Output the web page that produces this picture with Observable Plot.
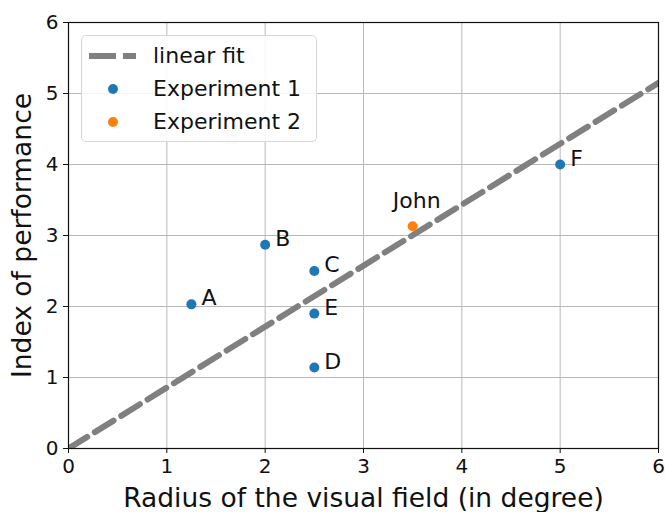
<!DOCTYPE html>
<html>
<head>
<meta charset="utf-8">
<script src="https://cdn.jsdelivr.net/npm/d3@7"></script>
<script src="https://cdn.jsdelivr.net/npm/@observablehq/plot@0.6"></script>
<style>
  body { margin: 0; background: #fff; font-family: "DejaVu Sans", sans-serif; }
  #wrap { position: relative; width: 665px; height: 512px; }
  #legend {
    position: absolute; left: 81px; top: 35px; width: 236px; height: 107px;
    background: rgba(255,255,255,0.85); border: 1px solid #d6d6d6; border-radius: 5px;
    box-sizing: border-box; font-size: 22px; color: #111;
  }
  .item { position: absolute; left: 0; height: 30px; width: 100%; }
  .item svg { position: absolute; left: 6px; top: 9px; }
  .item span { position: absolute; left: 71px; top: 2px; white-space: nowrap; line-height: 26px; }
</style>
</head>
<body>
<div id="wrap"></div>
<script>
// Data
const labels = ["A", "B", "C", "D", "E", "F", "John"];
const xs = [1.25, 2.0, 2.5, 2.5, 2.5, 5.0, 3.5];
const ys = [2.03, 2.87, 2.5, 1.14, 1.9, 4.0, 3.13];
const groups = ["Experiment 1", "Experiment 1", "Experiment 1", "Experiment 1", "Experiment 1", "Experiment 1", "Experiment 2"];
const fitX = [0, 6];
const fitY = [0, 5.15];
const xTicks = [0, 1, 2, 3, 4, 5, 6];
const yTicks = [0, 1, 2, 3, 4, 5, 6];
const colors = { "Experiment 1": "#1f77b4", "Experiment 2": "#ff7f0e" };

const pts = labels.map((l, i) => ({ label: l, x: xs[i], y: ys[i], group: groups[i] }));
const fit = fitX.map((x, i) => ({ x, y: fitY[i] }));
const exp1 = pts.filter(d => d.group === "Experiment 1");
const exp2 = pts.filter(d => d.group === "Experiment 2");

const chart = Plot.plot({
  width: 665,
  height: 512,
  marginLeft: 68,
  marginRight: 7,
  marginTop: 22,
  marginBottom: 64,
  style: { fontFamily: "DejaVu Sans, sans-serif", background: "white", color: "#111" },
  x: { domain: [0, 6], ticks: xTicks },
  y: { domain: [0, 6], ticks: yTicks },
  marks: [
    Plot.gridX(xTicks, { stroke: "#b8b8b8", strokeOpacity: 1, strokeWidth: 1 }),
    Plot.gridY(yTicks, { stroke: "#b8b8b8", strokeOpacity: 1, strokeWidth: 1 }),
    Plot.line(fit, { x: "x", y: "y", stroke: "#808080", strokeWidth: 6, strokeDasharray: "22,9", clip: true }),
    Plot.dot(pts, { x: "x", y: "y", r: 5, fill: d => colors[d.group], stroke: "none" }),
    Plot.text(exp1, { x: "x", y: "y", text: "label", dx: 10, dy: -6, textAnchor: "start", fontSize: 22, fill: "#111" }),
    Plot.text(exp2, { x: "x", y: "y", text: "label", dx: 4, dy: -25, textAnchor: "middle", fontSize: 22, fill: "#111" }),
    Plot.axisX(xTicks, { tickSize: 5, fontSize: 20, tickPadding: 5, tickFormat: d3.format("d"), label: "Radius of the visual field (in degree)", labelAnchor: "center", labelArrow: "none", labelOffset: 58, stroke: "#111", fill: "#111" }),
    Plot.axisY(yTicks, { tickSize: 5, fontSize: 20, tickPadding: 5, tickFormat: d3.format("d"), label: "Index of performance", labelAnchor: "center", labelArrow: "none", labelOffset: 56, stroke: "#111", fill: "#111" }),
    Plot.frame({ stroke: "#111", strokeWidth: 1.2 })
  ]
});

const wrap = document.getElementById("wrap");
wrap.appendChild(chart);

// Enlarge axis titles
chart.querySelectorAll("[aria-label='x-axis label'] text, [aria-label='y-axis label'] text").forEach(t => {
  t.setAttribute("font-size", 26.5);
  t.style.fontSize = "26.5px";
});

// Legend
const legend = document.createElement("div");
legend.id = "legend";
const items = [
  { name: "linear fit", type: "line", color: "#808080" },
  { name: "Experiment 1", type: "dot", color: colors["Experiment 1"] },
  { name: "Experiment 2", type: "dot", color: colors["Experiment 2"] }
];
items.forEach((it, i) => {
  const div = document.createElement("div");
  div.className = "item";
  div.style.top = (5 + i * 33) + "px";
  const sym = it.type === "line"
    ? `<svg width="50" height="12"><line x1="1" y1="6" x2="48" y2="6" stroke="${it.color}" stroke-width="6" stroke-dasharray="27,7"/></svg>`
    : `<svg width="50" height="12"><circle cx="25" cy="6" r="5" fill="${it.color}"/></svg>`;
  div.innerHTML = sym + `<span>${it.name}</span>`;
  legend.appendChild(div);
});
wrap.appendChild(legend);
</script>
</body>
</html>
